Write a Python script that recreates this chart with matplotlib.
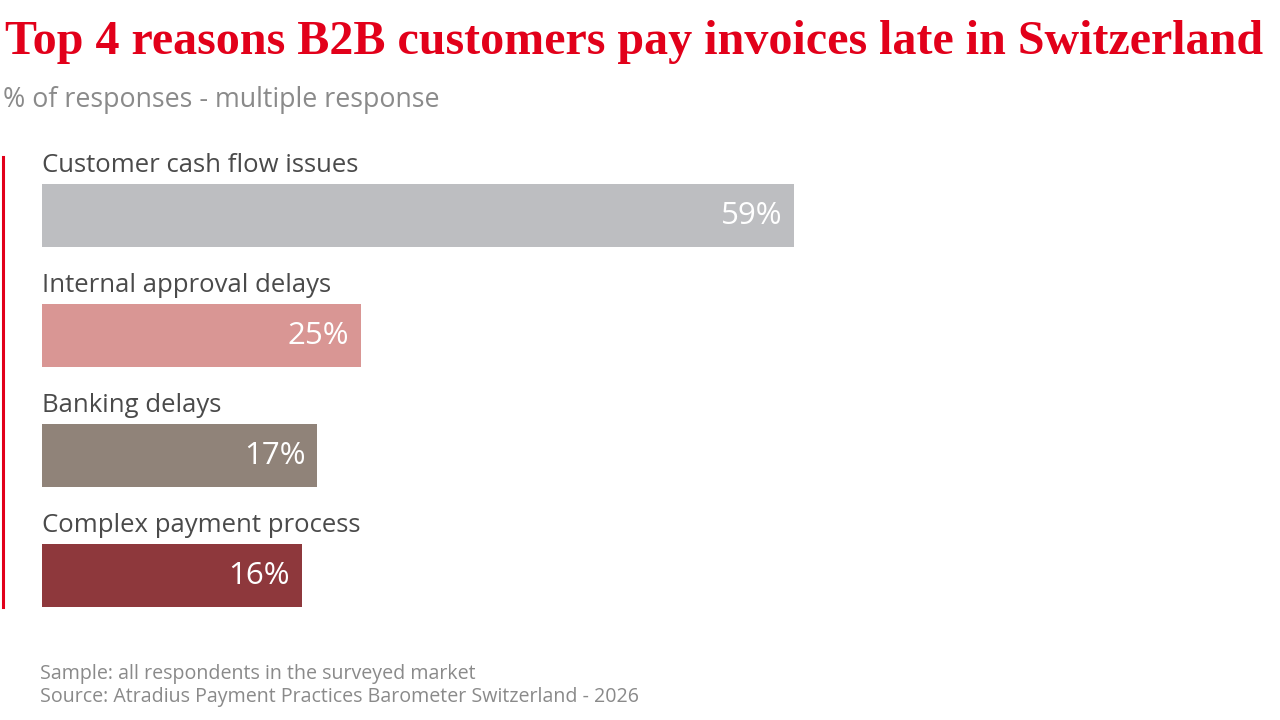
import matplotlib
matplotlib.use("Agg")
import matplotlib.pyplot as plt
from matplotlib.lines import Line2D

# data
reasons = ["Customer cash flow issues", "Internal approval delays",
           "Banking delays", "Complex payment process"]
shares = [59, 25, 17, 16]
# drawn bar lengths (the source chart stretches the two short bars)
bar_len = [59, 25, 21.6, 20.4]
colors = ["#BDBEC1", "#D99694", "#908379", "#8E383C"]

title = "Top 4 reasons B2B customers pay invoices late in Switzerland"
subtitle = "% of responses - multiple response"
notes = ["Sample: all respondents in the surveyed market",
         "Source: Atradius Payment Practices Barometer Switzerland - 2026"]

W, H = 1280, 720
sans = "Open Sans"

fig = plt.figure(figsize=(W / 100, H / 100), dpi=100)

# axes placed in pixel units: x=0 at px 42, x=59 at px 794
top_px, bot_px = 155.5, 635.5
ax = fig.add_axes([42 / W, 1 - bot_px / H, 752 / W, (bot_px - top_px) / H])
ypos = list(range(len(reasons)))
ax.barh(ypos, bar_len, height=0.525, color=colors, edgecolor="none")
ax.set_xlim(0, 59)
ax.set_ylim(len(reasons) - 0.5, -0.5)
ax.axis("off")

for i, (name, v, L) in enumerate(zip(reasons, shares, bar_len)):
    ax.text(0, i - 0.415, name, ha="left", va="center", fontsize=18.5,
            color="#4a4a4a", family=sans)
    ax.annotate(f"{v}%", xy=(L, i), xytext=(-8.6, 0), textcoords="offset points",
                ha="right", va="center", fontsize=22.5, color="white", family=sans)

# red accent line on the left
fig.add_artist(Line2D([3 / W, 3 / W], [1 - 157 / H, 1 - 607 / H],
                      color="#E2001A", linewidth=2.2))

fig.text(5 / W, 1 - 42 / H, title, ha="left", va="center", fontsize=34.6,
         color="#E2001A", family="Liberation Serif", fontweight="bold")
fig.text(3 / W, 1 - 100 / H, subtitle, ha="left", va="center", fontsize=19.3,
         color="#8a8a8a", family=sans)
fig.text(40 / W, 1 - 674 / H, notes[0], ha="left", va="center", fontsize=14.15,
         color="#8a8a8a", family=sans)
fig.text(40 / W, 1 - 697 / H, notes[1], ha="left", va="center", fontsize=14.15,
         color="#8a8a8a", family=sans)

fig.savefig("out.png", dpi=100, facecolor="white")
